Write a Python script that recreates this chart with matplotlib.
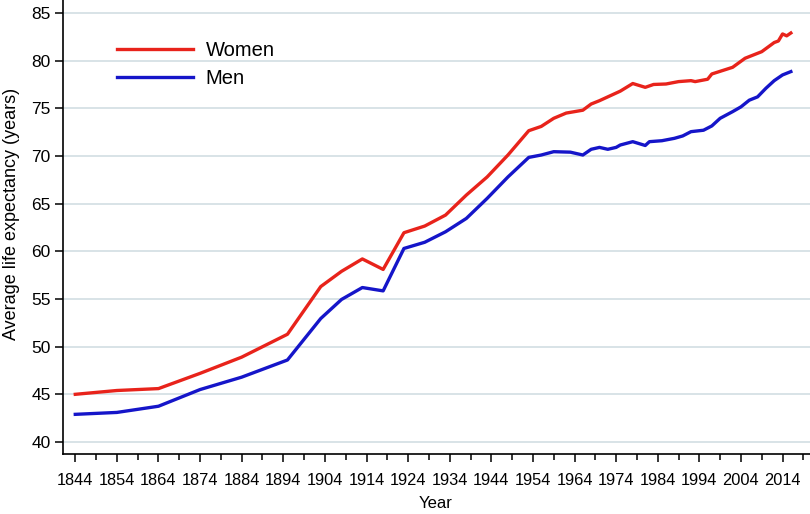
import matplotlib
matplotlib.use("Agg")
import matplotlib.pyplot as plt
import numpy as np

years_women = [1844, 1854, 1864, 1874, 1884, 1895, 1903, 1908, 1913, 1918, 1923, 1928,
               1933, 1938, 1943, 1948, 1953, 1956, 1959, 1962, 1966, 1968, 1970, 1975,
               1978, 1981, 1983, 1986, 1989, 1992, 1993, 1996, 1997, 2002, 2005, 2009,
               2012, 2013, 2014, 2015, 2016]
women = [45.0, 45.4, 45.6, 47.2, 48.9, 51.3, 56.3, 57.9, 59.2, 58.1, 61.95, 62.65,
         63.8, 65.9, 67.8, 70.1, 72.65, 73.1, 73.95, 74.5, 74.8, 75.45, 75.8, 76.8,
         77.6, 77.2, 77.5, 77.55, 77.8, 77.9, 77.8, 78.05, 78.6, 79.3, 80.25, 80.94,
         81.9, 82.06, 82.8, 82.6, 82.9]

years_men = [1844, 1854, 1864, 1874, 1884, 1895, 1903, 1908, 1913, 1918, 1923, 1928,
             1933, 1938, 1943, 1948, 1953, 1956, 1959, 1963, 1966, 1968, 1970, 1972,
             1974, 1975, 1978, 1981, 1982, 1985, 1988, 1990, 1992, 1995, 1997, 1999,
             2002, 2004, 2006, 2008, 2010, 2012, 2014, 2016]
men = [42.9, 43.1, 43.75, 45.5, 46.8, 48.6, 52.95, 54.95, 56.2, 55.85, 60.3, 60.95,
       62.05, 63.45, 65.55, 67.8, 69.85, 70.1, 70.45, 70.4, 70.1, 70.7, 70.9, 70.7,
       70.9, 71.15, 71.5, 71.1, 71.5, 71.6, 71.85, 72.1, 72.55, 72.7, 73.15, 73.95,
       74.65, 75.15, 75.85, 76.2, 77.1, 77.9, 78.5, 78.85]

x_major = list(range(1844, 2015, 10))
x_minor = list(range(1849, 2020, 10))
y_ticks = [40, 45, 50, 55, 60, 65, 70, 75, 80, 85]

plt.rcParams['font.family'] = ['Liberation Sans', 'DejaVu Sans']

fig = plt.figure(figsize=(8.10, 5.14), dpi=100)
ax = fig.add_axes([63/810, 60/514, 1 - 63/810, 1 - 60/514])

for y in y_ticks:
    ax.axhline(y, color='#d8e3e7', lw=1.4, zorder=0)

ax.plot(years_women, women, color='#e8231b', lw=2.4, label='Women', solid_joinstyle='round')
ax.plot(years_men, men, color='#1515c9', lw=2.4, label='Men', solid_joinstyle='round')

ax.set_xlim(1841.05, 2020.6)
ax.set_ylim(38.74, 86.36)

ax.set_xticks(x_major)
ax.set_xticks(x_minor, minor=True)
ax.set_yticks(y_ticks)
ax.tick_params(axis='x', which='major', length=6, width=1.1, labelsize=11.8, pad=8)
ax.tick_params(axis='x', which='minor', length=4, width=1.1)
ax.tick_params(axis='y', which='major', length=6, width=1.1, labelsize=12.5, pad=3)

for s in ['top', 'right']:
    ax.spines[s].set_visible(False)
for s in ['left', 'bottom']:
    ax.spines[s].set_linewidth(1.2)

ax.set_xlabel('Year', fontsize=12)
ax.xaxis.set_label_coords((436 - 63) / (810 - 63), -(496 - 454) / 454)
ax.set_ylabel('Average life expectancy (years)', fontsize=13)
ax.yaxis.set_label_coords(-(63 - 20) / 747, (514 - 214 - 60) / 454)

leg = ax.legend(loc='upper left', bbox_to_anchor=(0.048, 0.949), frameon=False,
                fontsize=14.5, handlelength=3.75, handletextpad=0.65, labelspacing=0.45)

fig.savefig('out.png', dpi=100)
